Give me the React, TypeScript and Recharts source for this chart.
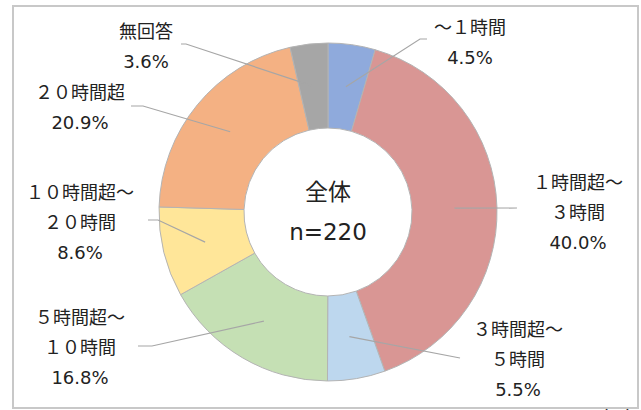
import { Cell, Customized, Pie, PieChart } from 'recharts';

const CATEGORIES = [
  '～１時間',
  '１時間超～３時間',
  '３時間超～５時間',
  '５時間超～１０時間',
  '１０時間超～２０時間',
  '２０時間超',
  '無回答',
];
const VALUES = [4.5, 40.0, 5.5, 16.8, 8.6, 20.9, 3.6];
const LABEL_LINES = [
  ['～１時間'],
  ['１時間超～', '３時間'],
  ['３時間超～', '５時間'],
  ['５時間超～', '１０時間'],
  ['１０時間超～', '２０時間'],
  ['２０時間超'],
  ['無回答'],
];
const COLORS = ['#8FAADC', '#D99694', '#BDD7EE', '#C5E0B4', '#FFE699', '#F4B183', '#A6A6A6'];
const TOTAL_LABEL = '全体';
const N_LABEL = 'n=220';

const data = CATEGORIES.map((name, i) => ({ name, value: VALUES[i] }));

const CX = 328;
const CY = 212;
const RAD = Math.PI / 180;
const FONT = "'DejaVu Sans', 'Noto Sans CJK JP', sans-serif";
const TEXT = '#222';
const LINE = '#A6A6A6';

// leader line elbow / end and text anchor, relative to the pie centre
const LABEL_LAYOUT = [
  { elbow: [92, -173], end: [99, -173], text: [142, -185] },
  { elbow: [189, -4], end: [189, -4], text: [250, -30] },
  { elbow: [132, 146], end: [132, 146], text: [190, 117] },
  { elbow: [-176, 134], end: [-190, 134], text: [-248, 105] },
  { elbow: [-170, 8], end: [-180, 8], text: [-248, -20] },
  { elbow: [-185, -106], end: [-197, -106], text: [-248, -120] },
  { elbow: [-142, -168], end: [-147, -168], text: [-182, -181] },
];

const renderLabel = (props: any) => {
  const { cx, cy, midAngle, innerRadius, outerRadius, index, value } = props;
  const r = (innerRadius + outerRadius) / 2;
  const sx = cx + r * Math.cos(-midAngle * RAD);
  const sy = cy + r * Math.sin(-midAngle * RAD);
  const lay = LABEL_LAYOUT[index];
  const lines = [...LABEL_LINES[index], `${value.toFixed(1)}%`];
  return (
    <g key={`label-${index}`}>
      <polyline
        points={`${sx},${sy} ${cx + lay.elbow[0]},${cy + lay.elbow[1]} ${cx + lay.end[0]},${cy + lay.end[1]}`}
        fill="none"
        stroke={LINE}
        strokeWidth={1.2}
      />
      {lines.map((t, i) => (
        <text
          key={i}
          x={cx + lay.text[0]}
          y={cy + lay.text[1] + i * 30}
          textAnchor="middle"
          dominantBaseline="central"
          fontFamily={FONT}
          fontSize={18}
          fill={TEXT}
        >
          {t}
        </text>
      ))}
    </g>
  );
};

const CenterText = () => (
  <g>
    <text x={CX} y={192} textAnchor="middle" dominantBaseline="central" fontFamily={FONT} fontSize={23} fill={TEXT}>
      {TOTAL_LABEL}
    </text>
    <text x={CX} y={232} textAnchor="middle" dominantBaseline="central" fontFamily={FONT} fontSize={23} fill={TEXT}>
      {N_LABEL}
    </text>
    <text x={617} y={417} textAnchor="middle" dominantBaseline="central" fontFamily={FONT} fontSize={18} fill={TEXT}>
      （%）
    </text>
  </g>
);

export default function App() {
  return (
    <div style={{ position: 'relative', width: 641, height: 410, background: '#fff' }}>
      <style>{'body{margin:0}'}</style>
      <div
        style={{
          position: 'absolute',
          left: 12,
          top: 5,
          width: 623,
          height: 400,
          border: '2px solid #C8C8C8',
        }}
      />
      <div style={{ position: 'absolute', left: 0, top: 0 }}>
        <PieChart width={641} height={410} margin={{ top: 0, right: 0, bottom: 0, left: 0 }}>
          <Pie
            data={data}
            dataKey="value"
            nameKey="name"
            cx={CX}
            cy={CY}
            innerRadius={84}
            outerRadius={169}
            startAngle={90}
            endAngle={-270}
            stroke="#B4B4B4"
            strokeWidth={1}
            label={renderLabel}
            labelLine={false}
            isAnimationActive={false}
          >
            {data.map((entry, index) => (
              <Cell key={`${entry.name}-${index}`} fill={COLORS[index]} />
            ))}
          </Pie>
          <Customized component={CenterText} />
        </PieChart>
      </div>
    </div>
  );
}
